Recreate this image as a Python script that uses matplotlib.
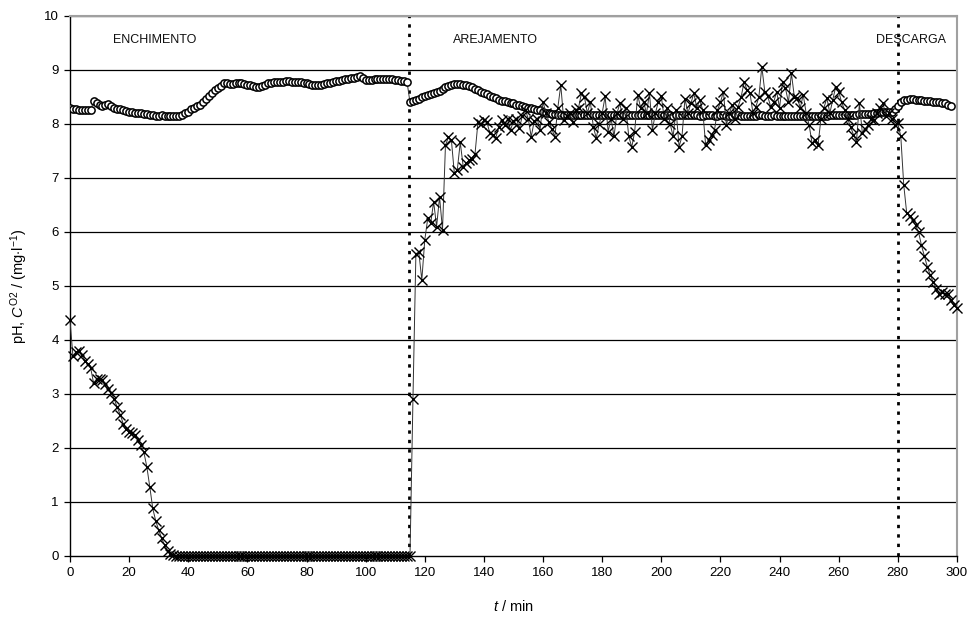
import numpy as np
import matplotlib
matplotlib.use("Agg")
import matplotlib.pyplot as plt

plt.rcParams['font.family'] = ['Liberation Sans', 'DejaVu Sans']
plt.rcParams['mathtext.fontset'] = 'custom'
plt.rcParams['mathtext.rm'] = 'Liberation Sans'
plt.rcParams['mathtext.it'] = 'Liberation Sans:italic'

# sampling time, one reading per minute
t_ph = np.arange(0, 299)
t_o2 = np.arange(0, 301)

# pH readings
ph = [
    8.30, 8.28, 8.27, 8.26, 8.25, 8.25, 8.25, 8.25, 8.43, 8.38,
    8.35, 8.33, 8.36, 8.37, 8.34, 8.30, 8.28, 8.27, 8.26, 8.24,
    8.23, 8.22, 8.21, 8.20, 8.20, 8.19, 8.18, 8.17, 8.16, 8.15,
    8.15, 8.16, 8.15, 8.15, 8.15, 8.14, 8.14, 8.15, 8.17, 8.20,
    8.23, 8.27, 8.30, 8.33, 8.35, 8.40, 8.46, 8.52, 8.57, 8.62,
    8.67, 8.71, 8.76, 8.75, 8.74, 8.74, 8.75, 8.76, 8.75, 8.74,
    8.73, 8.72, 8.70, 8.69, 8.69, 8.71, 8.73, 8.75, 8.76, 8.77,
    8.78, 8.78, 8.78, 8.79, 8.79, 8.78, 8.78, 8.77, 8.77, 8.76,
    8.75, 8.74, 8.73, 8.72, 8.72, 8.73, 8.74, 8.75, 8.76, 8.78,
    8.79, 8.80, 8.82, 8.83, 8.84, 8.85, 8.86, 8.87, 8.88, 8.85,
    8.82, 8.81, 8.82, 8.83, 8.83, 8.83, 8.83, 8.83, 8.83, 8.83,
    8.82, 8.81, 8.80, 8.79, 8.78, 8.40, 8.42, 8.44, 8.47, 8.50,
    8.52, 8.54, 8.56, 8.57, 8.60, 8.61, 8.65, 8.68, 8.71, 8.73,
    8.74, 8.74, 8.74, 8.73, 8.72, 8.70, 8.68, 8.65, 8.63, 8.60,
    8.57, 8.55, 8.52, 8.50, 8.48, 8.45, 8.43, 8.42, 8.40, 8.39,
    8.38, 8.36, 8.35, 8.34, 8.32, 8.30, 8.29, 8.27, 8.26, 8.25,
    8.23, 8.21, 8.20, 8.19, 8.18, 8.17, 8.17, 8.17, 8.16, 8.17,
    8.17, 8.17, 8.16, 8.17, 8.17, 8.17, 8.17, 8.16, 8.16, 8.17,
    8.17, 8.17, 8.16, 8.16, 8.17, 8.17, 8.16, 8.16, 8.16, 8.17,
    8.17, 8.16, 8.16, 8.16, 8.16, 8.17, 8.16, 8.16, 8.16, 8.16,
    8.16, 8.16, 8.16, 8.16, 8.15, 8.16, 8.16, 8.16, 8.16, 8.16,
    8.16, 8.16, 8.16, 8.15, 8.15, 8.16, 8.16, 8.16, 8.15, 8.15,
    8.16, 8.16, 8.15, 8.15, 8.15, 8.16, 8.16, 8.15, 8.15, 8.15,
    8.15, 8.15, 8.15, 8.16, 8.16, 8.15, 8.15, 8.15, 8.16, 8.15,
    8.15, 8.15, 8.15, 8.15, 8.15, 8.15, 8.15, 8.15, 8.15, 8.15,
    8.15, 8.15, 8.15, 8.15, 8.15, 8.15, 8.15, 8.16, 8.16, 8.16,
    8.16, 8.16, 8.16, 8.17, 8.17, 8.17, 8.17, 8.18, 8.18, 8.18,
    8.19, 8.19, 8.20, 8.21, 8.22, 8.23, 8.23, 8.23, 8.23, 8.27,
    8.33, 8.41, 8.44, 8.45, 8.46, 8.46, 8.45, 8.44, 8.44, 8.43,
    8.43, 8.42, 8.41, 8.41, 8.40, 8.39, 8.38, 8.35, 8.33,
]

# dissolved oxygen readings, mg/l
o2 = [
    4.37, 3.70, 3.78, 3.80, 3.72, 3.62, 3.55, 3.48, 3.20, 3.28,
    3.27, 3.25, 3.18, 3.10, 3.02, 2.90, 2.75, 2.62, 2.45, 2.35,
    2.30, 2.28, 2.24, 2.15, 2.05, 1.92, 1.65, 1.28, 0.88, 0.65,
    0.48, 0.33, 0.20, 0.10, 0.04, 0.01, 0.00, 0.00, 0.00, 0.00,
    0.00, 0.00, 0.00, 0.00, 0.00, 0.00, 0.00, 0.00, 0.00, 0.00,
    0.00, 0.00, 0.00, 0.00, 0.00, 0.00, 0.00, 0.00, 0.00, 0.00,
    0.00, 0.00, 0.00, 0.00, 0.00, 0.00, 0.00, 0.00, 0.00, 0.00,
    0.00, 0.00, 0.00, 0.00, 0.00, 0.00, 0.00, 0.00, 0.00, 0.00,
    0.00, 0.00, 0.00, 0.00, 0.00, 0.00, 0.00, 0.00, 0.00, 0.00,
    0.00, 0.00, 0.00, 0.00, 0.00, 0.00, 0.00, 0.00, 0.00, 0.00,
    0.00, 0.00, 0.00, 0.00, 0.00, 0.00, 0.00, 0.00, 0.00, 0.00,
    0.00, 0.00, 0.00, 0.00, 0.00, 0.00, 2.90, 5.60, 5.62, 5.11,
    5.85, 6.25, 6.16, 6.56, 6.10, 6.65, 6.04, 7.61, 7.75, 7.70,
    7.09, 7.15, 7.66, 7.21, 7.27, 7.33, 7.36, 7.45, 8.04, 8.00,
    8.07, 8.04, 7.83, 7.80, 7.74, 7.95, 8.07, 7.98, 8.10, 7.89,
    8.05, 8.10, 7.92, 8.15, 8.26, 8.10, 7.76, 8.05, 8.10, 7.89,
    8.41, 8.20, 8.04, 7.90, 7.76, 8.30, 8.72, 8.07, 8.15, 8.20,
    8.04, 8.26, 8.30, 8.57, 8.50, 8.20, 8.41, 7.95, 7.74, 8.00,
    8.20, 8.51, 7.86, 8.10, 7.77, 8.20, 8.38, 8.10, 8.29, 7.77,
    7.57, 7.86, 8.54, 8.30, 8.41, 8.20, 8.57, 7.89, 8.20, 8.41,
    8.51, 8.10, 8.29, 8.00, 7.77, 8.26, 7.58, 7.77, 8.47, 8.20,
    8.38, 8.57, 8.30, 8.44, 8.26, 7.61, 7.70, 7.80, 7.89, 8.26,
    8.40, 8.60, 7.98, 8.20, 8.35, 8.10, 8.32, 8.50, 8.78, 8.63,
    8.57, 8.20, 8.32, 8.50, 9.06, 8.60, 8.51, 8.32, 8.40, 8.60,
    8.30, 8.78, 8.66, 8.40, 8.94, 8.50, 8.48, 8.30, 8.54, 8.20,
    7.98, 7.64, 7.70, 7.61, 8.10, 8.30, 8.48, 8.20, 8.45, 8.69,
    8.60, 8.40, 8.26, 8.10, 7.95, 7.80, 7.67, 8.38, 7.83, 7.90,
    7.98, 8.10, 8.07, 8.20, 8.30, 8.38, 8.14, 8.20, 8.10, 7.98,
    8.01, 7.77, 6.87, 6.35, 6.30, 6.22, 6.12, 6.00, 5.75, 5.55,
    5.35, 5.20, 5.07, 4.95, 4.85, 4.88, 4.86, 4.86, 4.74, 4.65,
    4.60,
]

phase_bounds = [114.5, 280]
phase_names = ["ENCHIMENTO", "AREJAMENTO", "DESCARGA"]
phase_label_t = [14.5, 129.5, 272.5]

fig = plt.figure(figsize=(9.8, 6.19), dpi=100)
ax = fig.add_axes([0.0714, 0.1018, 0.9051, 0.8724])

ax.set_xlim(0, 300)
ax.set_ylim(0, 10)
ax.set_xticks(np.arange(0, 301, 20))
ax.set_yticks(np.arange(0, 11, 1))

for y in range(1, 11):
    ax.axhline(y, color='black', lw=0.9, zorder=1)

for s in ['top', 'right']:
    ax.spines[s].set_color('#a0a0a0')
    ax.spines[s].set_linewidth(1.5)
for s in ['left', 'bottom']:
    ax.spines[s].set_color('black')
    ax.spines[s].set_linewidth(1.0)

ax.tick_params(direction='out', length=4, width=0.9, colors='black',
               labelsize=9.5, pad=4)

for xb in phase_bounds:
    ax.plot([xb, xb], [0, 10], color='black', lw=2.0, ls=(0, (1.2, 2.2)),
            zorder=2)

ax.plot(t_ph, ph, color='#333333', lw=0.7, marker='o', ms=5.2,
        mfc='white', mec='black', mew=1.1, zorder=3)
ax.plot(t_o2, o2, color='#333333', lw=0.7, marker='x', ms=6.8,
        mec='black', mew=1.0, zorder=4, clip_on=False)

for name, tx in zip(phase_names, phase_label_t):
    ax.text(tx, 9.55, name, fontsize=9, ha='left', va='center',
            color='#111111')

ax.set_xlabel('$t$ / min', fontsize=10.5, labelpad=14)
ax.set_ylabel('pH, $C^{\\mathrm{O2}}$ / (mg$\\cdot$l$^{-1}$)',
              fontsize=10.5, labelpad=10)

fig.savefig('out.png', dpi=100)
